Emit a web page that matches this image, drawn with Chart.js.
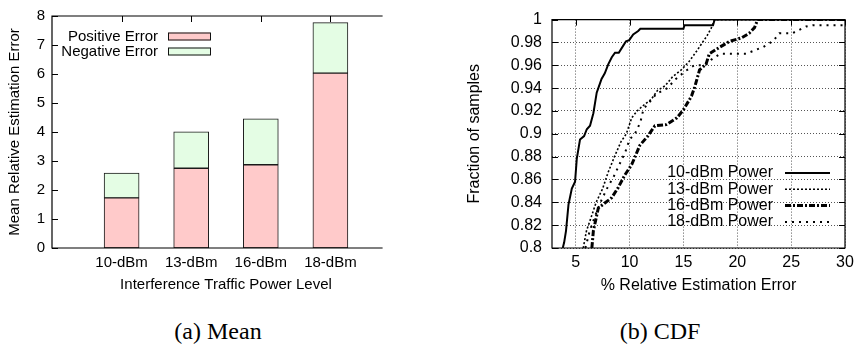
<!DOCTYPE html>
<html>
<head>
<meta charset="utf-8">
<script src="https://cdn.jsdelivr.net/npm/chart.js@4.4.0/dist/chart.umd.min.js"></script>
<style>
  body { margin: 0; background: #fff; width: 863px; height: 363px; position: relative; overflow: hidden; }
  #meanBox { position: absolute; left: 0; top: 0; width: 430px; height: 300px; }
  #cdfBox { position: absolute; left: 430px; top: 0; width: 433px; height: 300px; }
  .caption { position: absolute; top: 318px; font-family: "Liberation Serif", "Times New Roman", serif; font-size: 24px; transform: translateX(-50%); white-space: nowrap; }
</style>
</head>
<body>
<div id="meanBox"><canvas id="meanChart" width="430" height="300"></canvas></div>
<div id="cdfBox"><canvas id="cdfChart" width="433" height="300"></canvas></div>
<div class="caption" style="left:218px">(a) Mean</div>
<div class="caption" style="left:660px">(b) CDF</div>
<script>
// (a) mean error per power level
const powerLevels = ['10-dBm', '13-dBm', '16-dBm', '18-dBm'];
const positiveError = [1.73, 2.75, 2.87, 6.03];
const negativeError = [0.85, 1.26, 1.58, 1.74];
const meanTicks = [0, 1, 2, 3, 4, 5, 6, 7, 8];

// (b) CDF, x = % error, y = fraction
const err10 = [3.8, 3.93, 4.1, 4.33, 4.64, 4.94, 5.1, 5.4, 5.78, 6.03, 6.33, 6.64, 6.95, 7.1, 7.4, 7.7, 8.03, 8.35, 8.65, 9.0, 9.4, 9.67, 9.97, 10.34, 10.8, 11.0, 15.0, 15.1, 17.75, 17.9, 30];
const frac10 = [0.8, 0.805, 0.815, 0.838, 0.852, 0.858, 0.878, 0.895, 0.898, 0.904, 0.907, 0.918, 0.936, 0.94, 0.948, 0.953, 0.961, 0.967, 0.971, 0.971, 0.977, 0.981, 0.982, 0.987, 0.99, 0.992, 0.992, 0.995, 0.995, 1, 1];
const err13 = [5.7, 6.0, 6.4, 6.9, 7.5, 8.0, 8.6, 9.2, 9.7, 10.2, 10.7, 11.3, 12.0, 12.6, 13.3, 14.0, 14.8, 15.5, 16.2, 16.7, 17.2, 17.6, 17.9, 30];
const frac13 = [0.8, 0.815, 0.826, 0.84, 0.852, 0.866, 0.88, 0.893, 0.9, 0.914, 0.92, 0.925, 0.93, 0.938, 0.942, 0.95, 0.956, 0.963, 0.972, 0.979, 0.986, 0.993, 1, 1];
const err16 = [6.5, 6.64, 7.1, 8.34, 8.95, 9.57, 10.2, 10.96, 11.7, 12.35, 13.4, 14.4, 15.0, 15.75, 16.05, 16.5, 17.1, 17.4, 18.4, 19.3, 20.4, 21.1, 21.6, 21.9, 30];
const frac16 = [0.8, 0.815, 0.835, 0.844, 0.853, 0.864, 0.873, 0.89, 0.898, 0.907, 0.908, 0.914, 0.921, 0.933, 0.941, 0.956, 0.961, 0.97, 0.976, 0.981, 0.984, 0.988, 0.993, 1, 1];
const err18 = [5.9, 6.3, 6.8, 7.3, 7.9, 8.5, 9.0, 9.6, 10.0, 10.5, 11.0, 11.3, 11.7, 12.5, 13.5, 14.3, 15.2, 16.0, 17.0, 17.6, 18.4, 20.8, 22.4, 23.3, 23.9, 25.1, 26.4, 27.0, 30];
const frac18 = [0.8, 0.815, 0.828, 0.84, 0.852, 0.862, 0.872, 0.884, 0.895, 0.9, 0.91, 0.922, 0.926, 0.935, 0.94, 0.948, 0.955, 0.96, 0.96, 0.965, 0.97, 0.97, 0.976, 0.981, 0.988, 0.988, 0.994, 0.995, 0.995];
const cdfLabels = ['10-dBm Power', '13-dBm Power', '16-dBm Power', '18-dBm Power'];
const cdfXTicks = [5, 10, 15, 20, 25, 30];
const cdfYTicks = [0.8, 0.82, 0.84, 0.86, 0.88, 0.9, 0.92, 0.94, 0.96, 0.98, 1];

const FONT = '"Liberation Sans", Arial, Helvetica, sans-serif';

// gnuplot-like frame with inward ticks
const frameTicks = {
  id: 'frameTicks',
  afterDatasetsDraw(chart, args, opts) {
    const { ctx, chartArea: a, scales: { x, y } } = chart;
    const right = opts.frameRight != null ? x.getPixelForValue(opts.frameRight) : a.right;
    const len = 6;
    ctx.save();
    ctx.strokeStyle = '#000';
    ctx.lineWidth = 1.2;
    ctx.beginPath();
    ctx.moveTo(right, a.top);
    ctx.lineTo(a.left, a.top);
    ctx.lineTo(a.left, a.bottom);
    ctx.lineTo(right, a.bottom);
    if (opts.frameRight == null) ctx.lineTo(right, a.top);
    ctx.stroke();
    ctx.lineWidth = 1;
    ctx.beginPath();
    y.ticks.forEach(t => {
      const py = Math.round(y.getPixelForValue(t.value)) + 0.5;
      ctx.moveTo(a.left, py); ctx.lineTo(a.left + len, py);
      if (opts.frameRight == null) { ctx.moveTo(a.right, py); ctx.lineTo(a.right - len, py); }
    });
    x.ticks.forEach(t => {
      if (opts.skipEmpty && !x.getLabelForValue(t.value)) return;
      const px = Math.round(x.getPixelForValue(t.value)) + 0.5;
      ctx.moveTo(px, a.top); ctx.lineTo(px, a.top + len);
      if (opts.bottomTicks) { ctx.moveTo(px, a.bottom); ctx.lineTo(px, a.bottom - len); }
    });
    ctx.stroke();
    ctx.restore();
  }
};

// key for the bar chart: text then filled box
const boxKey = {
  id: 'boxKey',
  afterDraw(chart, args, opts) {
    if (!opts.enabled) return;
    const { ctx } = chart;
    ctx.save();
    ctx.font = '15px ' + FONT;
    ctx.textAlign = 'right';
    ctx.textBaseline = 'middle';
    chart.data.datasets.forEach((ds, i) => {
      const cy = opts.y + i * opts.step;
      ctx.fillStyle = '#000';
      ctx.fillText(ds.label, opts.textX, cy);
      ctx.fillStyle = ds.backgroundColor;
      ctx.fillRect(opts.boxX, cy - 4, opts.boxW, 8);
      ctx.strokeStyle = '#111';
      ctx.lineWidth = 1;
      ctx.strokeRect(opts.boxX + 0.5, cy - 3.5, opts.boxW, 7);
    });
    ctx.restore();
  }
};

// key for the CDF chart: text then line sample
const lineKey = {
  id: 'lineKey',
  afterDraw(chart, args, opts) {
    if (!opts.enabled) return;
    const { ctx } = chart;
    ctx.save();
    ctx.font = '16px ' + FONT;
    ctx.textAlign = 'right';
    ctx.textBaseline = 'middle';
    chart.data.datasets.forEach((ds, i) => {
      const cy = opts.y + i * opts.step;
      ctx.fillStyle = '#000';
      ctx.fillText(ds.label, opts.textX, cy);
      ctx.strokeStyle = '#000';
      ctx.lineWidth = ds.borderWidth;
      ctx.setLineDash(ds.borderDash || []);
      ctx.beginPath();
      ctx.moveTo(opts.lineX, cy);
      ctx.lineTo(opts.lineX + opts.lineW, cy);
      ctx.stroke();
    });
    ctx.restore();
  }
};

new Chart(document.getElementById('meanChart'), {
  type: 'bar',
  data: {
    labels: ['', ...powerLevels, ''],
    datasets: [
      { label: 'Positive Error', data: [null, ...positiveError, null], backgroundColor: '#ffcaca',
        borderColor: '#1a1a1a', borderWidth: 1, borderSkipped: false, barThickness: 35 },
      { label: 'Negative Error', data: [null, ...negativeError, null], backgroundColor: '#e4fde4',
        borderColor: '#1a1a1a', borderWidth: 1, borderSkipped: false, barThickness: 35 }
    ]
  },
  options: {
    responsive: false,
    animation: false,
    layout: { padding: { top: 15, right: 30, left: 0, bottom: 0 } },
    plugins: {
      legend: { display: false },
      tooltip: { enabled: false },
      frameTicks: { frameRight: 4.75, skipEmpty: true, bottomTicks: false },
      boxKey: { enabled: true, textX: 158, boxX: 168, boxW: 42, y: 36.5, step: 15 }
    },
    scales: {
      x: {
        stacked: true,
        offset: false,
        grid: { display: false, drawTicks: false },
        border: { display: false },
        ticks: { color: '#000', font: { family: FONT, size: 15 }, padding: 6, maxRotation: 0, autoSkip: false },
        title: { display: true, text: 'Interference Traffic Power Level', color: '#000',
                 font: { family: FONT, size: 15 }, padding: { top: 0, bottom: 6 } },
        afterFit(s) { s.height = 52; }
      },
      y: {
        stacked: true,
        min: 0, max: 8,
        afterBuildTicks(s) { s.ticks = meanTicks.map(v => ({ value: v })); },
        grid: { display: false, drawTicks: false },
        border: { display: false },
        ticks: { color: '#000', font: { family: FONT, size: 15 }, padding: 7, callback: v => String(v) },
        title: { display: true, text: 'Mean Relative Estimation Error', color: '#000',
                 font: { family: FONT, size: 15 }, padding: { top: 6, bottom: 0 } },
        afterFit(s) { s.width = 52; }
      }
    }
  },
  plugins: [frameTicks, boxKey]
});

const cdfX = [err10, err13, err16, err18];
const cdfY = [frac10, frac13, frac16, frac18];
const lineWidths = [2, 1.6, 3, 2];
const lineDashes = [[], [2, 2], [6, 2, 2, 2], [2, 5]];

new Chart(document.getElementById('cdfChart'), {
  type: 'line',
  data: {
    datasets: cdfLabels.map((label, k) => ({
      label,
      data: cdfX[k].map((v, i) => ({ x: v, y: cdfY[k][i] })),
      borderColor: '#000',
      borderWidth: lineWidths[k],
      borderDash: lineDashes[k],
      pointRadius: 0,
      tension: 0,
      fill: false
    }))
  },
  options: {
    responsive: false,
    animation: false,
    layout: { padding: { top: 15, right: 18, left: 0, bottom: 0 } },
    plugins: {
      legend: { display: false },
      tooltip: { enabled: false },
      frameTicks: {},
      lineKey: { enabled: true, textX: 343, lineX: 355, lineW: 45, y: 173, step: 16.3 }
    },
    scales: {
      x: {
        type: 'linear',
        min: 2.8, max: 30,
        afterBuildTicks(s) { s.ticks = cdfXTicks.map(v => ({ value: v })); },
        grid: { color: '#555', lineWidth: 1, drawTicks: false },
        border: { display: false, dash: [1, 2] },
        ticks: { color: '#000', font: { family: FONT, size: 16 }, padding: 5, maxRotation: 0 },
        title: { display: true, text: '% Relative Estimation Error', color: '#000',
                 font: { family: FONT, size: 16 }, padding: { top: 0, bottom: 5 } },
        afterFit(s) { s.height = 52; }
      },
      y: {
        min: 0.8, max: 1,
        afterBuildTicks(s) { s.ticks = cdfYTicks.map(v => ({ value: v })); },
        grid: { color: '#555', lineWidth: 1, drawTicks: false },
        border: { display: false, dash: [1, 2] },
        ticks: { color: '#000', font: { family: FONT, size: 16 }, padding: 10,
                 callback: v => String(Math.round(v * 100) / 100) },
        title: { display: true, text: 'Fraction of samples', color: '#000',
                 font: { family: FONT, size: 16 }, padding: { top: 35, bottom: 0 } },
        afterFit(s) { s.width = 122; }
      }
    }
  },
  plugins: [frameTicks, lineKey]
});
</script>
</body>
</html>
